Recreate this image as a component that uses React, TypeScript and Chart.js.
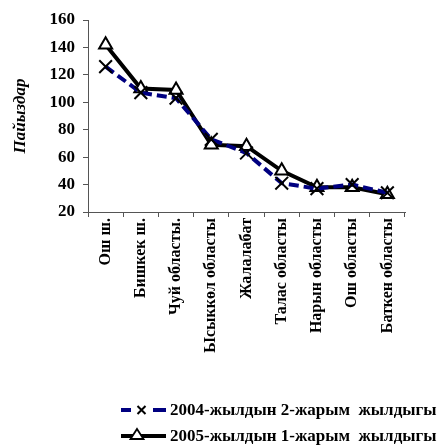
import React, { useEffect, useRef } from "react";
import { Chart, registerables } from "chart.js";

Chart.register(...registerables);

const categories = [
  "Ош ш.",
  "Бишкек ш.",
  "Чуй областы.",
  "Ысыккөл областы",
  "Жалалабат",
  "Талас областы",
  "Нарын областы",
  "Ош областы",
  "Баткен областы",
];
const series2004 = [126, 107, 103, 73, 63, 41, 37, 40, 34];
const series2005 = [142, 110, 109, 69, 68, 50, 38, 38, 33];
const label2004 = "2004-жылдын 2-жарым  жылдыгы";
const label2005 = "2005-жылдын 1-жарым  жылдыгы";
const yTitle = "Пайыздар";
const yMin = 20;
const yMax = 160;
const yStep = 20;

const FONT = "'Liberation Serif', 'Times New Roman', serif";

const legendPlugin = {
  id: "customLegend",
  afterDraw(chart: any) {
    const ctx = chart.ctx;
    ctx.save();
    const items = [
      { y: 410, label: label2004, kind: "x" },
      { y: 436, label: label2005, kind: "tri" },
    ];
    for (const it of items) {
      if (it.kind === "x") {
        ctx.strokeStyle = "#000080";
        ctx.lineWidth = 4;
        ctx.beginPath();
        ctx.moveTo(121, it.y);
        ctx.lineTo(131, it.y);
        ctx.moveTo(153, it.y);
        ctx.lineTo(166, it.y);
        ctx.stroke();
        ctx.strokeStyle = "#000";
        ctx.lineWidth = 2;
        ctx.beginPath();
        ctx.moveTo(137.5, it.y - 4);
        ctx.lineTo(145.5, it.y + 4);
        ctx.moveTo(145.5, it.y - 4);
        ctx.lineTo(137.5, it.y + 4);
        ctx.stroke();
      } else {
        ctx.strokeStyle = "#000";
        ctx.lineWidth = 4;
        ctx.beginPath();
        ctx.moveTo(121, it.y);
        ctx.lineTo(166, it.y);
        ctx.stroke();
        ctx.fillStyle = "#fff";
        ctx.lineWidth = 1.8;
        ctx.beginPath();
        ctx.moveTo(137, it.y - 7);
        ctx.lineTo(143.5, it.y + 3);
        ctx.lineTo(130.5, it.y + 3);
        ctx.closePath();
        ctx.fill();
        ctx.stroke();
      }
      ctx.fillStyle = "#000";
      ctx.font = `bold 17px ${FONT}`;
      ctx.textBaseline = "middle";
      ctx.textAlign = "left";
      ctx.fillText(it.label, 170, it.y + 1);
    }
    ctx.restore();
  },
};

export default function App() {
  const ref = useRef<HTMLCanvasElement>(null);
  useEffect(() => {
    if (!ref.current) return;
    const chart = new Chart(ref.current, {
      type: "line",
      data: {
        labels: categories,
        datasets: [
          {
            label: label2004,
            data: series2004,
            borderColor: "#000080",
            borderWidth: 4,
            borderDash: [10, 5],
            pointStyle: "crossRot",
            pointRadius: 9,
            pointBorderColor: "#000",
            pointBorderWidth: 2,
            pointBackgroundColor: "#000",
            fill: false,
            tension: 0,
          },
          {
            label: label2005,
            data: series2005,
            borderColor: "#000",
            borderWidth: 4,
            pointStyle: "triangle",
            pointRadius: 7.5,
            pointBorderColor: "#000",
            pointBorderWidth: 2,
            pointBackgroundColor: "#fff",
            fill: false,
            tension: 0,
          },
        ],
      },
      options: {
        animation: false,
        responsive: true,
        maintainAspectRatio: false,
        layout: { padding: { top: 20, right: 42, bottom: 0, left: 0 } },
        plugins: {
          legend: { display: false },
          tooltip: { enabled: false },
        },
        scales: {
          x: {
            type: "category",
            offset: true,
            grid: {
              offset: true,
              drawOnChartArea: false,
              drawTicks: true,
              tickLength: 5,
              color: "#555",
            },
            border: { color: "#555", width: 1 },
            ticks: {
              minRotation: 90,
              maxRotation: 90,
              autoSkip: false,
              padding: 1,
              color: "#000",
              font: { family: FONT, size: 16, weight: "bold" },
            },
            afterFit: (scale: any) => {
              scale.height = 233;
            },
          },
          y: {
            min: yMin,
            max: yMax,
            ticks: {
              stepSize: yStep,
              padding: 8,
              color: "#000",
              font: { family: FONT, size: 17, weight: "bold" },
            },
            grid: {
              drawOnChartArea: false,
              drawTicks: true,
              tickLength: 5,
              color: "#555",
            },
            border: { color: "#555", width: 1 },
            title: {
              display: true,
              text: yTitle,
              color: "#000",
              padding: { top: 10, bottom: 0 },
              font: { family: FONT, size: 17, weight: "bold", style: "italic" },
            },
            afterFit: (scale: any) => {
              scale.width = 88;
            },
          },
        },
      },
      plugins: [legendPlugin],
    });
    return () => chart.destroy();
  }, []);
  return (
    <div style={{ position: "fixed", left: 0, top: 0, width: 447, height: 445, background: "#fff" }}>
      <canvas ref={ref} />
    </div>
  );
}
